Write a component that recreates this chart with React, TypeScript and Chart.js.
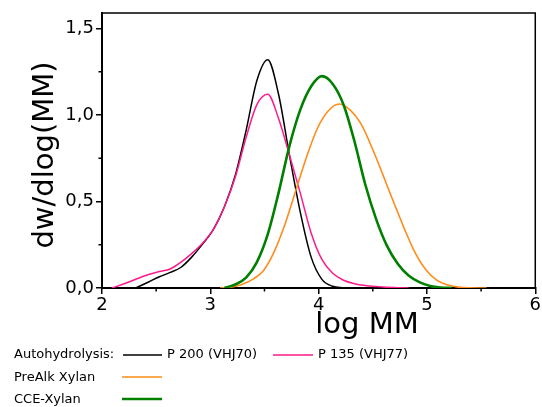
import React, { useEffect, useRef } from "react";
import { Chart, registerables } from "chart.js";

Chart.register(...registerables);

const p200X = [2.31, 2.43, 2.53, 2.63, 2.73, 2.83, 2.93, 3.03, 3.13, 3.23, 3.33, 3.43, 3.53, 3.63, 3.73, 3.83, 3.93, 4.03, 4.13, 4.23];
const p200Y = [0, 0.035, 0.065, 0.09, 0.12, 0.18, 0.255, 0.34, 0.47, 0.65, 0.91, 1.2, 1.32, 1.12, 0.77, 0.44, 0.18, 0.05, 0.01, 0];

const p135X = [2.09, 2.13, 2.23, 2.33, 2.43, 2.53, 2.63, 2.73, 2.83, 2.93, 3.03, 3.13, 3.23, 3.33, 3.43, 3.53, 3.63, 3.73, 3.83, 3.93, 4.03, 4.13, 4.23, 4.33, 4.43, 4.53, 4.63, 4.73, 4.83];
const p135Y = [0, 0.008, 0.03, 0.055, 0.078, 0.095, 0.11, 0.15, 0.2, 0.26, 0.34, 0.47, 0.64, 0.87, 1.06, 1.12, 0.98, 0.77, 0.55, 0.32, 0.165, 0.085, 0.045, 0.025, 0.014, 0.008, 0.004, 0.002, 0];

const preAlkX = [3.09, 3.19, 3.29, 3.39, 3.49, 3.59, 3.69, 3.79, 3.89, 3.99, 4.09, 4.19, 4.29, 4.39, 4.49, 4.59, 4.69, 4.79, 4.89, 4.99, 5.09, 5.19, 5.29, 5.39, 5.55];
const preAlkY = [0, 0.005, 0.02, 0.05, 0.1, 0.21, 0.37, 0.565, 0.76, 0.925, 1.025, 1.064, 1.03, 0.95, 0.815, 0.66, 0.5, 0.345, 0.205, 0.105, 0.045, 0.017, 0.005, 0.001, 0];

const cceX = [3.13, 3.23, 3.33, 3.43, 3.53, 3.63, 3.73, 3.83, 3.93, 4.03, 4.13, 4.23, 4.33, 4.43, 4.53, 4.63, 4.73, 4.83, 4.93, 5.03, 5.13, 5.23];
const cceY = [0, 0.02, 0.06, 0.15, 0.31, 0.55, 0.82, 1.03, 1.165, 1.225, 1.18, 1.06, 0.85, 0.6, 0.4, 0.245, 0.14, 0.072, 0.034, 0.012, 0.003, 0];

const xTicks = [2, 3, 4, 5, 6];
const yTicks = [0, 0.5, 1.0, 1.5];
const xMinorTicks = [2.5, 3.5, 4.5, 5.5];
const yMinorTicks = [0.25, 0.75, 1.25];

const xTitle = "log MM";
const yTitle = "dw/dlog(MM)";
const legendLead = "Autohydrolysis:";
const legendP200 = "P 200 (VHJ70)";
const legendP135 = "P 135 (VHJ77)";
const legendPreAlk = "PreAlk Xylan";
const legendCce = "CCE-Xylan";

const BLACK = "#000000";
const PINK = "#ff1a8c";
const ORANGE = "#ff8c1a";
const GREEN = "#008000";

const toPts = (xs: number[], ys: number[]) => xs.map((x, i) => ({ x, y: ys[i] }));

const decorPlugin = {
  id: "decor",
  afterDraw(chart: any) {
    const ctx = chart.ctx as CanvasRenderingContext2D;
    const a = chart.chartArea;
    const xs = chart.scales.x;
    const ys = chart.scales.y;
    ctx.save();
    ctx.strokeStyle = "#000";
    ctx.lineWidth = 1.5;
    ctx.beginPath();
    ctx.moveTo(a.left, a.top);
    ctx.lineTo(a.right, a.top);
    ctx.lineTo(a.right, a.bottom);
    ctx.stroke();
    ctx.beginPath();
    xMinorTicks.forEach((v) => {
      const px = xs.getPixelForValue(v);
      ctx.moveTo(px, a.bottom);
      ctx.lineTo(px, a.bottom + 3.5);
    });
    yMinorTicks.forEach((v) => {
      const py = ys.getPixelForValue(v);
      ctx.moveTo(a.left, py);
      ctx.lineTo(a.left - 3.5, py);
    });
    ctx.stroke();

    ctx.fillStyle = "#000";
    ctx.font = "29px 'DejaVu Sans'";
    ctx.textAlign = "center";
    ctx.textBaseline = "middle";
    ctx.fillText(xTitle, 367, 325);
    ctx.save();
    ctx.translate(45, 155);
    ctx.rotate(-Math.PI / 2);
    ctx.fillText(yTitle, 0, 0);
    ctx.restore();

    ctx.font = "13px 'DejaVu Sans'";
    ctx.textAlign = "left";
    ctx.textBaseline = "middle";
    const seg = (x1: number, x2: number, y: number, c: string, w: number) => {
      ctx.strokeStyle = c;
      ctx.lineWidth = w;
      ctx.beginPath();
      ctx.moveTo(x1, y);
      ctx.lineTo(x2, y);
      ctx.stroke();
    };
    ctx.fillText(legendLead, 14, 355);
    seg(123, 162, 355, BLACK, 1.5);
    ctx.fillText(legendP200, 167, 355);
    seg(273, 313, 355, PINK, 1.5);
    ctx.fillText(legendP135, 318, 355);
    ctx.fillText(legendPreAlk, 14, 378);
    seg(122, 162, 377, ORANGE, 1.5);
    ctx.fillText(legendCce, 14, 400);
    seg(122, 162, 399, GREEN, 2.5);
    ctx.restore();
  },
};

export default function App() {
  const ref = useRef<HTMLCanvasElement | null>(null);
  useEffect(() => {
    if (!ref.current) return;
    const mk = (label: string, xs: number[], ys: number[], color: string, w: number, order: number) => ({
      label,
      data: toPts(xs, ys),
      borderColor: color,
      backgroundColor: color,
      borderWidth: w,
      pointRadius: 0,
      showLine: true,
      fill: false,
      cubicInterpolationMode: "monotone" as const,
      order,
    });
    const chart = new Chart(ref.current, {
      type: "scatter",
      data: {
        datasets: [
          mk(legendP200, p200X, p200Y, BLACK, 1.5, 3),
          mk(legendP135, p135X, p135Y, PINK, 1.5, 2),
          mk(legendPreAlk, preAlkX, preAlkY, ORANGE, 1.6, 1),
          mk(legendCce, cceX, cceY, GREEN, 2.6, 0),
        ],
      },
      options: {
        animation: false,
        responsive: false,
        devicePixelRatio: 1,
        layout: { padding: { left: 0, right: 6, top: 13, bottom: 0 } },
        plugins: { legend: { display: false }, tooltip: { enabled: false } },
        scales: {
          x: {
            type: "linear",
            min: 2,
            max: 6,
            afterBuildTicks: (s: any) => {
              s.ticks = xTicks.map((v) => ({ value: v }));
            },
            afterFit: (s: any) => {
              s.height = 119;
            },
            ticks: {
              color: "#000",
              font: { family: "'DejaVu Sans'", size: 18 },
              padding: 1,
              maxRotation: 0,
              callback: (v: any) => String(v),
            },
            grid: { drawOnChartArea: false, drawTicks: true, tickLength: 6, color: "#000", lineWidth: 1.5 },
            border: { display: true, color: "#000", width: 2 },
          },
          y: {
            type: "linear",
            min: 0,
            max: 1.59,
            afterBuildTicks: (s: any) => {
              s.ticks = yTicks.map((v) => ({ value: v }));
            },
            afterFit: (s: any) => {
              s.width = 102;
            },
            ticks: {
              color: "#000",
              font: { family: "'DejaVu Sans'", size: 18 },
              padding: 2,
              callback: (v: any) => Number(v).toFixed(1).replace(".", ","),
            },
            grid: { drawOnChartArea: false, drawTicks: true, tickLength: 6, color: "#000", lineWidth: 1.5 },
            border: { display: true, color: "#000", width: 2 },
          },
        },
      },
      plugins: [decorPlugin],
    });
    return () => chart.destroy();
  }, []);
  return (
    <div style={{ position: "fixed", left: 0, top: 0, width: 542, height: 407, background: "#fff" }}>
      <canvas ref={ref} width={542} height={407} style={{ display: "block", width: 542, height: 407 }} />
    </div>
  );
}
